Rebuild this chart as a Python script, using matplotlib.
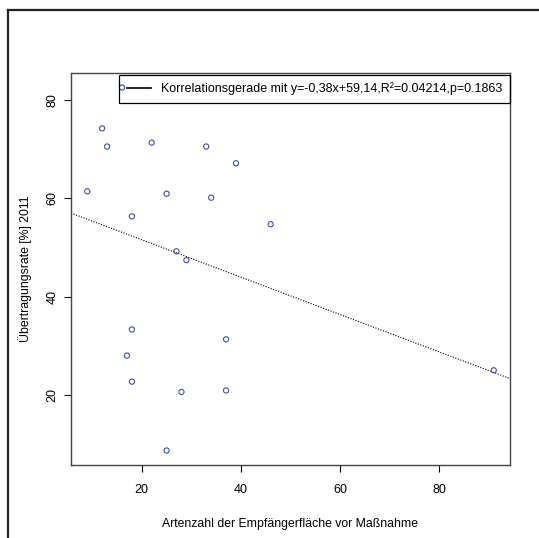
import matplotlib
matplotlib.use('Agg')
import matplotlib.pyplot as plt
from matplotlib.lines import Line2D
import numpy as np

plt.rcParams['font.family'] = ['Liberation Sans', 'DejaVu Sans']

# Artenzahl der Empfaengerflaeche vor Massnahme
artenzahl = [16, 12, 13, 22, 33, 39, 9, 25, 34, 18, 46,
             27, 29, 18, 37, 17, 18, 28, 37, 91, 25]
# Uebertragungsrate [%] 2011
rate = [82.5, 74.2, 70.5, 71.3, 70.5, 67.1, 61.4, 60.9, 60.1, 56.3, 54.7,
        49.2, 47.4, 33.3, 31.3, 28.0, 22.7, 20.6, 20.9, 25.0, 8.7]

slope = -0.38
intercept = 59.14
legend_label = 'Korrelationsgerade mit y=-0,38x+59,14,R²=0.04214,p=0.1863'

x_ticks = [20, 40, 60, 80]
y_ticks = [20, 40, 60, 80]


def r_range(v):
    lo, hi = min(v), max(v)
    pad = 0.04 * (hi - lo)
    return lo - pad, hi + pad


fig = plt.figure(figsize=(5.39, 5.38), dpi=100)
ax = fig.add_axes([71 / 539, 73 / 538, 439 / 539, 392 / 538])

ax.scatter(artenzahl, rate, s=14, facecolors='none', edgecolors='#3f4fb0',
           linewidths=0.8, zorder=3)
ax.axline((0, intercept), slope=slope, color='black', lw=0.8,
          linestyle=(0, (1, 1.4)))

ax.set_xlim(*r_range(artenzahl))
ax.set_ylim(*r_range(rate))
ax.set_xticks(x_ticks)
ax.set_yticks(y_ticks)
ax.tick_params(axis='both', length=5, width=0.8, labelsize=9)
ax.tick_params(axis='x', pad=8.5)
ax.tick_params(axis='y', pad=4)
for lab in ax.get_yticklabels():
    lab.set_rotation(90)
    lab.set_va('center')

for sp in ax.spines.values():
    sp.set_color('#444444')
    sp.set_linewidth(1.0)

ax.set_xlabel('Artenzahl der Empfängerfläche vor Maßnahme', fontsize=8.8)
ax.xaxis.set_label_coords(0.5, -0.151)
ax.xaxis.label.set_va('center')
ax.set_ylabel('Übertragungsrate [%] 2011', fontsize=8.8)
ax.yaxis.set_label_coords(-0.105, 0.5)
ax.yaxis.label.set_va('center')

leg = ax.legend(handles=[Line2D([], [], color='black', lw=1.2)],
                labels=[legend_label], loc='upper right',
                bbox_to_anchor=(1.0, 1.0 - 2 / 392), borderaxespad=0,
                fontsize=9, handlelength=1.9, handletextpad=0.85,
                borderpad=0.6, fancybox=False, framealpha=1)
leg.get_frame().set_edgecolor('black')
leg.get_frame().set_linewidth(0.9)
leg.get_frame().set_facecolor('none')

# outer frame of the original canvas
fig.add_artist(Line2D([7.5 / 539, 7.5 / 539], [0, 1 - 9.5 / 538],
                      transform=fig.transFigure, color='#222222', lw=1.6))
fig.add_artist(Line2D([7.5 / 539, 1], [1 - 9.5 / 538, 1 - 9.5 / 538],
                      transform=fig.transFigure, color='#222222', lw=1.6))

fig.savefig('out.png', dpi=100)
